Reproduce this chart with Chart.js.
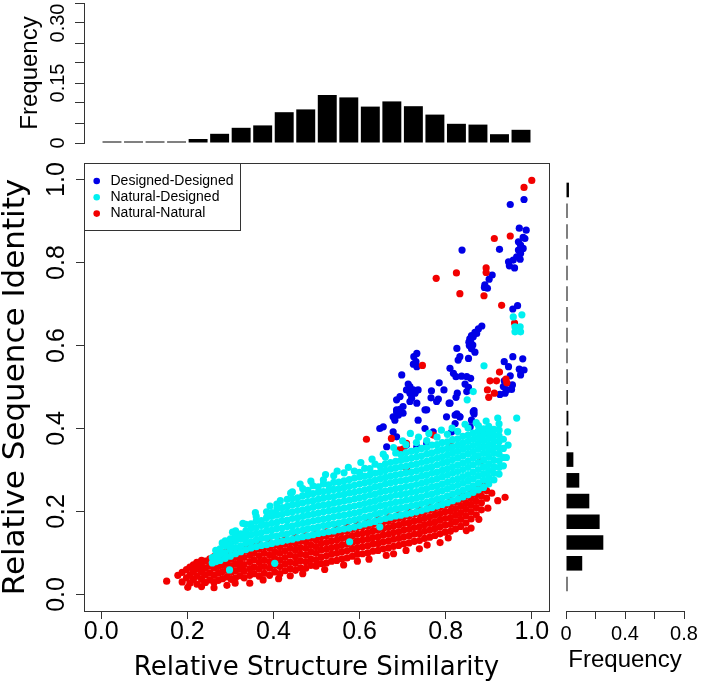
<!DOCTYPE html>
<html>
<head>
<meta charset="utf-8">
<script src="https://cdn.jsdelivr.net/npm/chart.js@4"></script>
<style>
  body { margin: 0; background: #fff; }
  canvas { position: absolute; left: 0; top: 0; }
</style>
</head>
<body>
<canvas id="scatter" width="701" height="685"></canvas>
<canvas id="simHist" width="701" height="685"></canvas>
<canvas id="idHist" width="701" height="685"></canvas>
<script>
// ticks
const mainTicks = [0, 0.2, 0.4, 0.6, 0.8, 1.0];
const topFreqTicks = [0, 0.05, 0.1, 0.15, 0.2, 0.25, 0.3, 0.35];
const topFreqLabelVals = [0, 0.15, 0.3];
const topFreqLabelText = ["0", "0.15", "0.30"];
const sideFreqTicks = [0, 0.2, 0.4, 0.6, 0.8];
const sideFreqLabelVals = [0, 0.4, 0.8];
const sideFreqLabelText = ["0", "0.4", "0.8"];

// histogram bins (mid points) and frequencies
const binMids = [0.025, 0.075, 0.125, 0.175, 0.225, 0.275, 0.325, 0.375, 0.425, 0.475,
                 0.525, 0.575, 0.625, 0.675, 0.725, 0.775, 0.825, 0.875, 0.925, 0.975];
const simFreq = [0.001, 0.001, 0.001, 0.003, 0.010, 0.023, 0.038, 0.044, 0.077, 0.084,
                 0.120, 0.114, 0.091, 0.104, 0.092, 0.071, 0.048, 0.046, 0.022, 0.033];
const idFreq = [0.005, 0.110, 0.253, 0.228, 0.158, 0.090, 0.050, 0.016, 0.016, 0.012,
                0.011, 0.010, 0.009, 0.008, 0.006, 0.006, 0.007, 0.006, 0.006, 0.020];

// Designed-Designed pairs [similarity, identity]
const ddPts = [
  [0.950,0.940],[0.982,0.952],[0.971,0.883],[0.987,0.878],[0.980,0.861],[0.984,0.858],[0.969,0.850],
  [0.974,0.842],[0.980,0.834],[0.969,0.830],[0.974,0.822],[0.965,0.814],[0.973,0.808],[0.946,0.802],
  [0.957,0.806],[0.948,0.792],[0.960,0.787],[0.838,0.830],[0.925,0.832],
  [0.908,0.770],[0.901,0.760],[0.891,0.746],[0.897,0.738],[0.890,0.740],[0.956,0.688],[0.967,0.696],
  [0.884,0.647],[0.876,0.640],[0.868,0.632],[0.860,0.624],[0.856,0.616],[0.854,0.608],[0.855,0.600],
  [0.860,0.592],[0.868,0.584],[0.872,0.629],[0.864,0.621],[0.858,0.609],[0.863,0.601],
  [0.826,0.593],[0.833,0.573],[0.829,0.565],[0.853,0.569],[0.810,0.545],[0.818,0.533],[0.824,0.525],
  [0.837,0.526],[0.849,0.525],[0.858,0.521],[0.845,0.507],[0.853,0.499],[0.849,0.489],[0.827,0.485],
  [0.824,0.475],[0.808,0.461],[0.802,0.428],[0.826,0.435],[0.833,0.428],[0.866,0.443],[0.866,0.435],
  [0.936,0.561],[0.956,0.573],[0.979,0.568],[0.946,0.549],[0.971,0.543],[0.982,0.541],[0.974,0.529],
  [0.950,0.527],[0.936,0.515],[0.942,0.509],[0.955,0.505],[0.934,0.501],[0.942,0.493],[0.953,0.494],
  [0.926,0.482],[0.938,0.485],
  [0.733,0.581],[0.726,0.573],[0.731,0.561],[0.725,0.555],[0.733,0.549],[0.698,0.529],[0.713,0.507],
  [0.717,0.501],[0.725,0.493],[0.709,0.493],[0.717,0.485],[0.729,0.485],[0.721,0.473],[0.694,0.477],
  [0.686,0.469],[0.701,0.453],[0.694,0.446],[0.686,0.440],[0.701,0.437],[0.678,0.428],[0.736,0.493],
  [0.752,0.445],[0.767,0.491],[0.785,0.510],[0.796,0.493],[0.783,0.471],[0.766,0.474],
  [0.655,0.404],[0.647,0.400],[0.678,0.392],[0.682,0.420],[0.690,0.432],[0.686,0.445],[0.717,0.465],
  [0.733,0.461],[0.756,0.445],[0.779,0.465],[0.810,0.461],[0.822,0.432],[0.833,0.428],[0.864,0.440],
  [0.860,0.420],[0.857,0.404],[0.822,0.412],[0.814,0.392],[0.771,0.392],[0.752,0.400],[0.736,0.420],
  [0.756,0.364],[0.733,0.356],[0.694,0.348],[0.663,0.356],[0.686,0.380],[0.709,0.360]
];

// Natural-Designed: dense band read as columns [similarity, [identities]]
const ndCols = [
  [0.258,[0.076,0.089]],
  [0.266,[0.079,0.093,0.106]],
  [0.276,[0.082,0.097,0.110]],
  [0.288,[0.087,0.101,0.118,0.129]],
  [0.300,[0.092,0.108,0.121,0.134]],
  [0.312,[0.098,0.113,0.129,0.142,0.153]],
  [0.324,[0.103,0.117,0.134,0.146]],
  [0.336,[0.108,0.124,0.138,0.153,0.169]],
  [0.348,[0.112,0.127,0.143,0.159,0.170]],
  [0.360,[0.115,0.131,0.147,0.161,0.177,0.188]],
  [0.372,[0.118,0.135,0.149,0.166,0.178]],
  [0.384,[0.120,0.136,0.153,0.168,0.185,0.199]],
  [0.396,[0.123,0.140,0.155,0.171,0.188,0.197]],
  [0.408,[0.126,0.141,0.159,0.174,0.191,0.206,0.218]],
  [0.420,[0.128,0.145,0.160,0.178,0.193,0.209]],
  [0.432,[0.131,0.146,0.164,0.179,0.197,0.212,0.229]],
  [0.444,[0.133,0.150,0.165,0.183,0.199,0.216,0.231,0.247]],
  [0.456,[0.136,0.152,0.169,0.185,0.202,0.218,0.233]],
  [0.468,[0.139,0.155,0.171,0.188,0.204,0.221,0.238,0.255]],
  [0.480,[0.141,0.158,0.174,0.191,0.207,0.224,0.240,0.251]],
  [0.492,[0.144,0.160,0.177,0.193,0.210,0.226,0.243,0.262]],
  [0.504,[0.147,0.163,0.180,0.196,0.213,0.229,0.246,0.259]],
  [0.516,[0.149,0.166,0.182,0.199,0.215,0.232,0.248,0.266,0.276]],
  [0.528,[0.151,0.168,0.184,0.201,0.217,0.234,0.250,0.264]],
  [0.540,[0.153,0.170,0.187,0.203,0.220,0.236,0.253,0.270,0.286]],
  [0.552,[0.156,0.172,0.189,0.205,0.222,0.239,0.255,0.271]],
  [0.564,[0.158,0.175,0.191,0.208,0.225,0.241,0.258,0.274,0.293]],
  [0.576,[0.160,0.177,0.193,0.210,0.227,0.244,0.260,0.277]],
  [0.588,[0.163,0.180,0.196,0.213,0.230,0.246,0.263,0.280,0.297]],
  [0.600,[0.166,0.183,0.199,0.216,0.233,0.249,0.266,0.283,0.294]],
  [0.612,[0.170,0.186,0.203,0.219,0.236,0.252,0.269,0.285,0.304]],
  [0.624,[0.173,0.189,0.206,0.222,0.239,0.255,0.272,0.288,0.303]],
  [0.636,[0.176,0.193,0.209,0.226,0.242,0.259,0.275,0.292,0.314]],
  [0.648,[0.180,0.196,0.213,0.229,0.246,0.262,0.279,0.295,0.309]],
  [0.660,[0.183,0.200,0.216,0.233,0.249,0.266,0.282,0.299,0.315,0.331]],
  [0.672,[0.186,0.203,0.219,0.236,0.252,0.269,0.285,0.302,0.318]],
  [0.684,[0.189,0.206,0.222,0.239,0.255,0.272,0.288,0.305,0.321,0.341]],
  [0.696,[0.191,0.208,0.224,0.241,0.257,0.274,0.290,0.307,0.323,0.337]],
  [0.708,[0.194,0.210,0.227,0.243,0.260,0.276,0.293,0.309,0.326,0.342,0.361]],
  [0.720,[0.196,0.213,0.229,0.246,0.262,0.279,0.295,0.312,0.328,0.345]],
  [0.732,[0.199,0.215,0.232,0.248,0.265,0.281,0.298,0.314,0.331,0.347,0.366]],
  [0.744,[0.202,0.219,0.235,0.252,0.268,0.285,0.301,0.318,0.334,0.352]],
  [0.756,[0.206,0.222,0.239,0.255,0.272,0.288,0.305,0.321,0.338,0.354,0.371]],
  [0.768,[0.209,0.226,0.242,0.259,0.275,0.292,0.308,0.325,0.341,0.360]],
  [0.780,[0.213,0.229,0.246,0.262,0.279,0.295,0.312,0.328,0.345,0.361,0.379]],
  [0.792,[0.217,0.233,0.250,0.266,0.283,0.299,0.316,0.332,0.349,0.366]],
  [0.804,[0.221,0.237,0.254,0.270,0.287,0.303,0.320,0.336,0.352,0.368,0.386]],
  [0.816,[0.226,0.242,0.259,0.275,0.292,0.308,0.325,0.341,0.356,0.373]],
  [0.828,[0.230,0.246,0.263,0.279,0.296,0.312,0.329,0.345,0.360,0.375,0.393]],
  [0.840,[0.235,0.251,0.268,0.284,0.301,0.317,0.334,0.350,0.365,0.381]],
  [0.852,[0.240,0.256,0.273,0.289,0.306,0.322,0.339,0.354,0.369,0.384,0.401]],
  [0.864,[0.246,0.262,0.279,0.295,0.312,0.328,0.344,0.359,0.374,0.389]],
  [0.876,[0.252,0.268,0.285,0.301,0.318,0.334,0.350,0.365,0.379,0.394,0.407]],
  [0.888,[0.258,0.275,0.291,0.308,0.324,0.340,0.356,0.371,0.385,0.399]],
  [0.900,[0.266,0.282,0.299,0.315,0.331,0.347,0.362,0.377,0.391,0.405]],
  [0.912,[0.276,0.292,0.308,0.324,0.340,0.355,0.370,0.384,0.398]],
  [0.924,[0.290,0.306,0.322,0.338,0.353,0.368,0.382,0.396,0.411]],
  [0.934,[0.310,0.330,0.352,0.374]]
];
const ndExtra = [
  [0.298,0.059],[0.403,0.075],[0.577,0.127],[0.647,0.163],[0.965,0.425],
  [0.889,0.551],[0.864,0.489],[0.850,0.469],[0.957,0.669],[0.977,0.674],
  [0.961,0.645],[0.973,0.645],[0.961,0.633],[0.974,0.633],
  [0.281,0.124],[0.305,0.150],[0.329,0.171],[0.358,0.197],[0.392,0.213],[0.416,0.226],
  [0.440,0.244],[0.462,0.266],[0.487,0.273],[0.521,0.289],[0.548,0.297],[0.574,0.306],
  [0.603,0.318],[0.629,0.326],[0.655,0.338],[0.679,0.354],[0.700,0.370],[0.718,0.388],
  [0.737,0.379],[0.761,0.388],[0.790,0.396],[0.815,0.401],[0.845,0.410],[0.871,0.414],
  [0.894,0.418],[0.921,0.425],[0.945,0.360],[0.941,0.330],[0.944,0.392]
];

// Natural-Natural: lower band as columns [similarity, [identities]]
const nnCols = [
  [0.152,[0.032]],
  [0.178,[0.046]],
  [0.188,[0.030,0.053]],
  [0.198,[0.040,0.060]],
  [0.206,[0.027,0.047,0.066]],
  [0.214,[0.036,0.055,0.071]],
  [0.222,[0.025,0.044,0.061,0.077]],
  [0.233,[0.019,0.036,0.053,0.069,0.082]],
  [0.242,[0.029,0.047,0.063,0.080]],
  [0.252,[0.035,0.052,0.069,0.086]],
  [0.262,[0.029,0.046,0.063,0.079,0.091]],
  [0.272,[0.034,0.051,0.067,0.083,0.095]],
  [0.282,[0.038,0.055,0.071,0.087,0.100]],
  [0.292,[0.022,0.042,0.058,0.075,0.091,0.104]],
  [0.302,[0.036,0.053,0.069,0.085,0.101]],
  [0.312,[0.040,0.057,0.073,0.089,0.105]],
  [0.322,[0.045,0.061,0.077,0.093,0.108]],
  [0.332,[0.040,0.056,0.072,0.089,0.104,0.114]],
  [0.345,[0.027,0.046,0.062,0.079,0.095,0.111]],
  [0.355,[0.050,0.066,0.083,0.099,0.115]],
  [0.367,[0.044,0.061,0.077,0.093,0.109,0.121]],
  [0.379,[0.051,0.067,0.083,0.099,0.115]],
  [0.391,[0.046,0.063,0.079,0.095,0.111,0.124]],
  [0.403,[0.054,0.070,0.087,0.103,0.119]],
  [0.415,[0.050,0.067,0.083,0.099,0.115,0.128]],
  [0.427,[0.057,0.073,0.089,0.105,0.121,0.133]],
  [0.439,[0.045,0.062,0.078,0.095,0.111,0.127]],
  [0.451,[0.058,0.075,0.091,0.107,0.123,0.137]],
  [0.463,[0.064,0.081,0.097,0.113,0.129]],
  [0.475,[0.063,0.079,0.095,0.111,0.127,0.141]],
  [0.487,[0.070,0.086,0.103,0.119,0.135]],
  [0.499,[0.068,0.083,0.099,0.115,0.131,0.146]],
  [0.511,[0.074,0.090,0.107,0.123,0.139]],
  [0.523,[0.076,0.093,0.109,0.125,0.141,0.151]],
  [0.535,[0.080,0.097,0.113,0.129,0.145]],
  [0.547,[0.082,0.099,0.115,0.131,0.147,0.157]],
  [0.559,[0.086,0.103,0.119,0.135,0.151]],
  [0.571,[0.088,0.105,0.121,0.137,0.153,0.162]],
  [0.583,[0.092,0.109,0.125,0.141,0.157]],
  [0.595,[0.080,0.097,0.113,0.129,0.145,0.161,0.168]],
  [0.607,[0.098,0.115,0.131,0.147,0.163]],
  [0.619,[0.100,0.117,0.133,0.149,0.165,0.175]],
  [0.631,[0.104,0.121,0.137,0.153,0.169]],
  [0.643,[0.106,0.123,0.139,0.155,0.171,0.181]],
  [0.655,[0.110,0.127,0.143,0.159,0.175]],
  [0.667,[0.112,0.129,0.145,0.161,0.177,0.187]],
  [0.679,[0.098,0.116,0.133,0.149,0.165,0.181]],
  [0.691,[0.118,0.135,0.151,0.167,0.183,0.192]],
  [0.703,[0.122,0.139,0.155,0.171,0.187]],
  [0.715,[0.124,0.141,0.157,0.173,0.189,0.198]],
  [0.727,[0.128,0.145,0.161,0.177,0.193]],
  [0.739,[0.110,0.130,0.147,0.163,0.179,0.195,0.204]],
  [0.751,[0.135,0.152,0.168,0.184,0.200]],
  [0.763,[0.138,0.155,0.171,0.187,0.203,0.210]],
  [0.775,[0.142,0.159,0.175,0.191,0.207]],
  [0.787,[0.125,0.146,0.163,0.179,0.195,0.211,0.217]],
  [0.799,[0.150,0.167,0.183,0.199,0.215]],
  [0.811,[0.152,0.169,0.185,0.201,0.217,0.227]],
  [0.823,[0.158,0.175,0.191,0.207,0.223]],
  [0.835,[0.164,0.181,0.197,0.213,0.229,0.237]],
  [0.847,[0.172,0.189,0.205,0.221,0.237]],
  [0.859,[0.160,0.182,0.199,0.215,0.231,0.245]],
  [0.871,[0.192,0.209,0.225,0.241,0.255]],
  [0.883,[0.204,0.221,0.237,0.253,0.265]],
  [0.895,[0.232,0.250,0.268]]
];
const nnExtra = [
  [0.907,0.244],[0.938,0.234],[0.709,0.304],[0.880,0.320],[0.616,0.374],[0.674,0.376],[0.709,0.364],
  [0.690,0.348],[0.701,0.350],[0.771,0.384],[0.810,0.364],[0.746,0.552],[0.778,0.762],[0.825,0.775],
  [0.833,0.725],[0.894,0.787],[0.894,0.776],[0.889,0.720],[0.913,0.858],[0.950,0.864],[0.930,0.697],
  [0.960,0.654],[0.982,0.981],[1.000,0.998],[0.925,0.536],[0.903,0.515],[0.918,0.515],[0.940,0.519],
  [0.942,0.510],[0.897,0.493],[0.913,0.485],[0.900,0.475],
  [0.201,0.017],[0.262,0.016],[0.311,0.027],[0.376,0.035],[0.412,0.038],[0.468,0.050],[0.519,0.060],
  [0.563,0.071],[0.622,0.085],[0.662,0.094],[0.708,0.106],[0.757,0.119],[0.806,0.136],[0.848,0.154],
  [0.877,0.181],[0.898,0.208],[0.921,0.226]
];

const fromPairs = list => list.map(([x, y]) => ({x, y}));
const fromCols = cols => cols.flatMap(([x, ys]) => ys.map(y => ({x, y})));
const pickLabel = (vals, texts) => v => {
  const i = vals.findIndex(l => Math.abs(l - v) < 1e-9);
  return i >= 0 ? texts[i] : "";
};
const setTicks = list => s => { s.ticks = list.map(v => ({value: v})); };
const fixSize = (w, h) => s => {
  if (w != null) s.width = w;
  if (h != null) s.height = h;
  s.paddingLeft = s.paddingRight = s.paddingTop = s.paddingBottom = 0;
};

const axisInk = "#333";
const tickFont = {family: "Liberation Sans", size: 25, lineHeight: 1};
const smallFont = {family: "Liberation Sans", size: 20, lineHeight: 1};

// box around the scatter plus legend in the top-left corner
const boxAndLegend = {
  id: "boxAndLegend",
  afterDraw(chart) {
    const ctx = chart.ctx, a = chart.chartArea;
    ctx.save();
    ctx.strokeStyle = axisInk;
    ctx.lineWidth = 1;
    ctx.strokeRect(a.left + 0.5, a.top + 0.5, a.right - a.left, a.bottom - a.top);
    ctx.fillStyle = "#fff";
    ctx.fillRect(a.left + 0.5, a.top + 0.5, 156, 67);
    ctx.strokeRect(a.left + 0.5, a.top + 0.5, 156, 67);
    ctx.font = '14px "Liberation Sans"';
    ctx.textBaseline = "middle";
    chart.data.datasets.forEach((ds, k) => {
      const y = a.top + 18 + k * 16.3;
      ctx.fillStyle = ds.backgroundColor;
      ctx.beginPath();
      ctx.arc(a.left + 12.7, y, 3.3, 0, 2 * Math.PI);
      ctx.fill();
      ctx.fillStyle = "#000";
      ctx.fillText(ds.label, a.left + 26.5, y);
    });
    ctx.restore();
  }
};

new Chart(document.getElementById("scatter"), {
  type: "scatter",
  data: {
    datasets: [
      {label: "Designed-Designed", data: fromPairs(ddPts), backgroundColor: "#0000e6", order: 2},
      {label: "Natural-Designed", data: fromCols(ndCols).concat(fromPairs(ndExtra)), backgroundColor: "#00f0f0", order: 0},
      {label: "Natural-Natural", data: fromCols(nnCols).concat(fromPairs(nnExtra)), backgroundColor: "#f20000", order: 1}
    ]
  },
  options: {
    responsive: false,
    animation: false,
    events: [],
    layout: {padding: {left: 0, top: 163, right: 152, bottom: 0}},
    elements: {point: {radius: 3.6, borderWidth: 0, hoverRadius: 3.6}},
    plugins: {legend: {display: false}, tooltip: {enabled: false}},
    scales: {
      x: {
        type: "linear", min: -0.04, max: 1.04, bounds: "data",
        afterBuildTicks: setTicks(mainTicks),
        afterFit: fixSize(null, 74),
        grid: {drawOnChartArea: false, drawTicks: true, tickLength: 8, color: axisInk},
        border: {display: true, color: axisInk},
        ticks: {font: tickFont, color: "#000", padding: 1, autoSkip: false, maxRotation: 0,
                callback: v => v.toFixed(1)},
        title: {display: true, text: "Relative Structure Similarity", color: "#000",
                font: {family: "DejaVu Sans", size: 26, lineHeight: 1}, padding: {top: 0, bottom: 4}}
      },
      y: {
        type: "linear", min: -0.04, max: 1.04, bounds: "data",
        afterBuildTicks: setTicks(mainTicks),
        afterFit: fixSize(84, null),
        grid: {drawOnChartArea: false, drawTicks: true, tickLength: 8, color: axisInk},
        border: {display: true, color: axisInk},
        ticks: {font: tickFont, color: "#000", padding: 2, autoSkip: false,
                minRotation: 90, maxRotation: 90, crossAlign: "center",
                callback: v => v.toFixed(1)},
        title: {display: true, text: "Relative Sequence Identity", color: "#000",
                font: {family: "DejaVu Sans", size: 31, lineHeight: 1}, padding: {top: 0, bottom: 0}}
      }
    }
  },
  plugins: [boxAndLegend]
});

// top histogram: structure similarity
new Chart(document.getElementById("simHist"), {
  type: "bar",
  data: {
    datasets: [{
      data: binMids.map((m, i) => ({x: m, y: simFreq[i]})),
      backgroundColor: "#000", borderWidth: 0,
      categoryPercentage: 1, barPercentage: 0.88, minBarLength: 1.5
    }]
  },
  options: {
    responsive: false,
    animation: false,
    events: [],
    layout: {padding: {left: 0, top: 3, right: 152, bottom: 542}},
    plugins: {legend: {display: false}, tooltip: {enabled: false}},
    scales: {
      x: {type: "linear", min: -0.04, max: 1.04, offset: false, display: false,
          grid: {offset: false}},
      y: {
        type: "linear", min: 0, max: 0.35, bounds: "data",
        afterBuildTicks: setTicks(topFreqTicks),
        afterFit: fixSize(84, null),
        grid: {drawOnChartArea: false, drawTicks: true, tickLength: 9, color: axisInk},
        border: {display: true, color: axisInk},
        ticks: {font: smallFont, color: "#000", padding: -3, autoSkip: false,
                minRotation: 90, maxRotation: 90, crossAlign: "center",
                callback: pickLabel(topFreqLabelVals, topFreqLabelText)},
        title: {display: true, text: "Frequency", color: "#000",
                font: {family: "Liberation Sans", size: 24, lineHeight: 1}, padding: {top: 18.7, bottom: 0}}
      }
    }
  }
});

// right histogram: sequence identity
new Chart(document.getElementById("idHist"), {
  type: "bar",
  data: {
    datasets: [{
      data: binMids.map((m, i) => ({x: idFreq[i], y: m})),
      backgroundColor: "#000", borderWidth: 0,
      categoryPercentage: 1, barPercentage: 0.88, minBarLength: 1.5
    }]
  },
  options: {
    indexAxis: "y",
    responsive: false,
    animation: false,
    events: [],
    layout: {padding: {left: 566, top: 163, right: 17, bottom: 0}},
    plugins: {legend: {display: false}, tooltip: {enabled: false}},
    scales: {
      y: {type: "linear", min: -0.04, max: 1.04, offset: false, display: false,
          grid: {offset: false}},
      x: {
        type: "linear", min: 0, max: 0.8, bounds: "data",
        afterBuildTicks: setTicks(sideFreqTicks),
        afterFit: fixSize(null, 74),
        grid: {drawOnChartArea: false, drawTicks: true, tickLength: 8, color: axisInk},
        border: {display: true, color: axisInk},
        ticks: {font: smallFont, color: "#000", padding: 5, autoSkip: false, maxRotation: 0,
                callback: pickLabel(sideFreqLabelVals, sideFreqLabelText)},
        title: {display: true, text: "Frequency", color: "#000",
                font: {family: "Liberation Sans", size: 24, lineHeight: 1}, padding: {top: 0, bottom: 13}}
      }
    }
  }
});
</script>
</body>
</html>
